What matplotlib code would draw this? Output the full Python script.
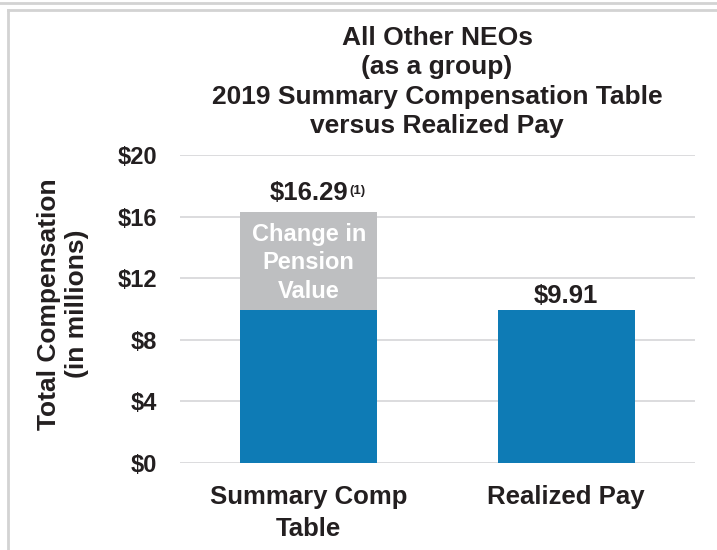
import matplotlib
matplotlib.use("Agg")
import matplotlib.pyplot as plt
from matplotlib.lines import Line2D

plt.rcParams['font.family'] = ['Liberation Sans', 'DejaVu Sans']

categories = ["Summary Comp\nTable", "Realized Pay"]
base_values = [9.91, 9.91]
pension_values = [16.29 - 9.91, 0.0]
total_labels = ["$16.29", "$9.91"]
yticks = [0, 4, 8, 12, 16, 20]
ytick_labels = ["$0", "$4", "$8", "$12", "$16", "$20"]

BLUE = "#0E7BB5"
GRAY = "#BEBFC1"
TEXT = "#231F20"

fig = plt.figure(figsize=(7.17, 5.5), dpi=100)
ax = fig.add_axes([180/717, 1-463/550, (695-180)/717, (463-155)/550])

x = list(range(len(categories)))
ax.bar(x, base_values, width=0.533, color=BLUE, zorder=3)
ax.bar(x, pension_values, bottom=base_values, width=0.533, color=GRAY, zorder=3)

ax.set_xlim(-0.5, 1.5)
ax.set_ylim(0, 20)
ax.set_yticks(yticks)
ax.set_yticklabels(ytick_labels, fontsize=17, fontweight='bold', color=TEXT)
ax.set_xticks(x)
ax.set_xticklabels(categories, fontsize=18.5, fontweight='bold', color=TEXT, linespacing=1.4)
ax.tick_params(axis='both', length=0)
ax.tick_params(axis='y', pad=16.5)
ax.tick_params(axis='x', pad=16)
for s in ax.spines.values():
    s.set_visible(False)
ax.grid(axis='y', color="#D5D6D8", linewidth=1.2, zorder=0)
ax.set_axisbelow(True)

fig.text(63/717, 1-304/550, "Total Compensation\n(in millions)", rotation=90,
         ha='center', va='center', fontsize=19, fontweight='bold',
         color=TEXT, linespacing=1.2)

# value labels
tops = [b + p for b, p in zip(base_values, pension_values)]
t0 = ax.text(x[0], tops[0] + 0.78, total_labels[0], ha='center', va='baseline',
             fontsize=18.5, fontweight='bold', color=TEXT)
ax.annotate("(1)", xy=(1.0, 1.0), xycoords=t0, xytext=(1, -3), textcoords='offset points',
            ha='left', va='top', fontsize=9.5, fontweight='bold', color=TEXT)
ax.text(x[1], tops[1] + 0.45, total_labels[1], ha='center', va='baseline',
        fontsize=18.5, fontweight='bold', color=TEXT)

ax.text(x[0], base_values[0] + pension_values[0] / 2 - 0.1, "Change in\nPension\nValue",
        ha='center', va='center', fontsize=17, fontweight='bold', color='white',
        linespacing=1.31)

fig.text(437/717, 1-133/550, "All Other NEOs\n(as a group)\n2019 Summary Compensation Table\nversus Realized Pay",
         ha='center', va='baseline', fontsize=19, fontweight='bold', color=TEXT,
         linespacing=1.28)

# frame lines
fc = "#D3D3D3"
fig.add_artist(Line2D([0, 1], [1-3/550, 1-3/550], transform=fig.transFigure, color=fc, lw=2))
fig.add_artist(Line2D([8/717, 1], [1-10/550, 1-10/550], transform=fig.transFigure, color=fc, lw=2))
fig.add_artist(Line2D([8/717, 8/717], [0, 1-10/550], transform=fig.transFigure, color=fc, lw=2))

fig.savefig("out.png", dpi=100)
